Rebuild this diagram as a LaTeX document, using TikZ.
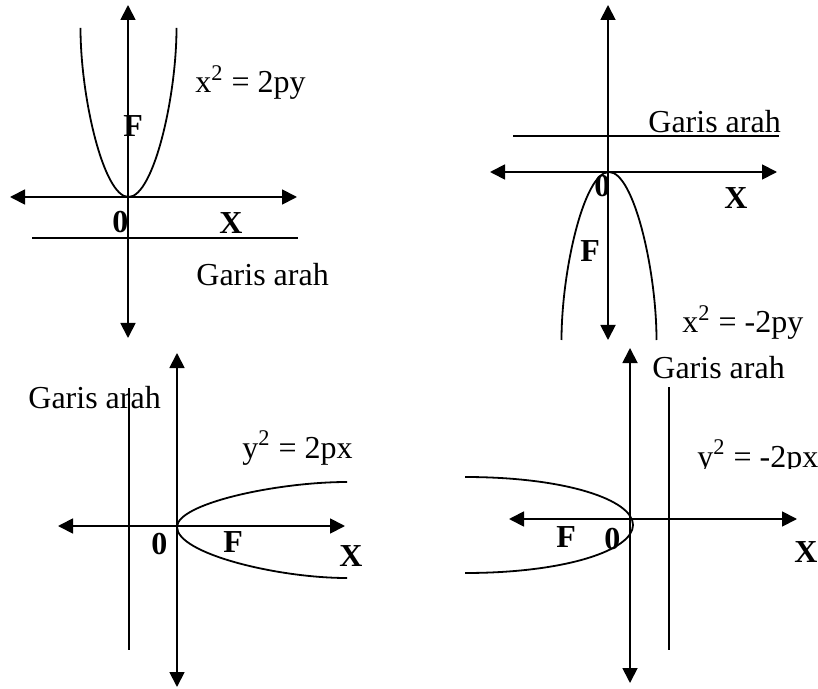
\documentclass[tikz,border=0pt]{standalone}
\usepackage{fontspec}
\setmainfont{Liberation Serif}
\usetikzlibrary{arrows.meta}
\tikzset{
  axis/.style={line width=0.9pt,{Triangle[length=7.5pt,width=7.5pt]}-{Triangle[length=7.5pt,width=7.5pt]}},
  dline/.style={line width=0.9pt},
  curve/.style={line width=0.9pt},
  lbl/.style={anchor=base west, inner sep=0pt, font=\fontsize{16}{19}\selectfont},
  blbl/.style={anchor=base west, inner sep=0pt, font=\fontsize{16}{19}\selectfont\bfseries}
}
\begin{document}
\begin{tikzpicture}[x=0.5pt,y=-0.5pt]
\useasboundingbox (0,0) rectangle (818,689);
% ---------- Panel 1: x^2 = 2py ----------
\coordinate (p1t) at (128,5);  \coordinate (p1b) at (128,338);
\coordinate (p1l) at (10,197); \coordinate (p1r) at (297,197);
\coordinate (d1l) at (32,238); \coordinate (d1r) at (298,238);
\coordinate (v1) at (128.5,197);
\draw[axis] (p1b) -- (p1t);
\draw[axis] (p1l) -- (p1r);
\draw[dline] (d1l) -- (d1r);
\draw[curve] (80.5,28) .. controls (80.5,97) and (103.5,197) .. (v1)
             .. controls (153.5,197) and (176.5,97) .. (176.5,28);
\node[lbl] (e1) at (195,93) {x\textsuperscript{2} = 2py};
\node[blbl] (f1) at (123,137) {F};
\node[blbl] (o1) at (112,233) {0};
\node[blbl] (x1) at (219,234) {X};
\node[lbl] (g1) at (196,286) {Garis arah};
% ---------- Panel 2: x^2 = -2py ----------
\coordinate (p2t) at (608,5);  \coordinate (p2b) at (608,340);
\coordinate (p2l) at (490,172); \coordinate (p2r) at (777,172);
\coordinate (d2l) at (513,136); \coordinate (d2r) at (779,136);
\coordinate (v2) at (609,172);
\draw[axis] (p2b) -- (p2t);
\draw[axis] (p2l) -- (p2r);
\draw[dline] (d2l) -- (d2r);
\draw[curve] (561.5,340) .. controls (561.5,271) and (584,172) .. (v2)
             .. controls (634,172) and (656.5,271) .. (656.5,340);
\node[lbl] (g2) at (648,133) {Garis arah};
\node[blbl] (o2) at (594,197) {0};
\node[blbl] (x2) at (724,209) {X};
\node[blbl] (f2) at (580,262) {F};
\node[lbl] (e2) at (682,333) {x\textsuperscript{2} = -2py};
% ---------- Panel 3: y^2 = 2px ----------
\coordinate (p3t) at (177,353); \coordinate (p3b) at (177,687);
\coordinate (p3l) at (58,526);  \coordinate (p3r) at (345,526);
\coordinate (d3t) at (129,388); \coordinate (d3b) at (129,650);
\coordinate (v3) at (177,527);
\draw[axis] (p3b) -- (p3t);
\draw[axis] (p3l) -- (p3r);
\draw[dline] (d3t) -- (d3b);
\draw[curve] (347,482) .. controls (277,482) and (177,503.5) .. (v3)
             .. controls (177,553.5) and (277,578) .. (347,578);
\node[lbl] (g3) at (28,408) {Garis arah};
\draw[dline] (d3t) -- (d3b);
\node[lbl] (e3) at (242,458) {y\textsuperscript{2} = 2px};
\node[blbl] (o3) at (151,554) {0};
\node[blbl] (f3) at (223,552) {F};
\node[blbl] (x3) at (339,566) {X};
% ---------- Panel 4: y^2 = -2px ----------
\coordinate (p4t) at (630,348); \coordinate (p4b) at (630,683);
\coordinate (p4l) at (509,519); \coordinate (p4r) at (797,519);
\coordinate (d4t) at (669,387); \coordinate (d4b) at (669,650);
\coordinate (v4) at (633,525);
\draw[axis] (p4b) -- (p4t);
\draw[axis] (p4l) -- (p4r);
\draw[dline] (d4t) -- (d4b);
\draw[curve] (465,477) .. controls (566,477) and (633,500) .. (v4)
             .. controls (633,550) and (566,573) .. (465,573);
\node[lbl] (g4) at (652,378) {Garis arah};
\begin{scope}
  \clip (690,420) rectangle (818,468);
  \node[lbl] (e4) at (697,467) {y\textsuperscript{2} = -2px};
\end{scope}
\node[blbl] (f4) at (556,547) {F};
\node[blbl] (o4) at (604,549) {0};
\node[blbl] (x4) at (794,562) {X};
\end{tikzpicture}
\end{document}
